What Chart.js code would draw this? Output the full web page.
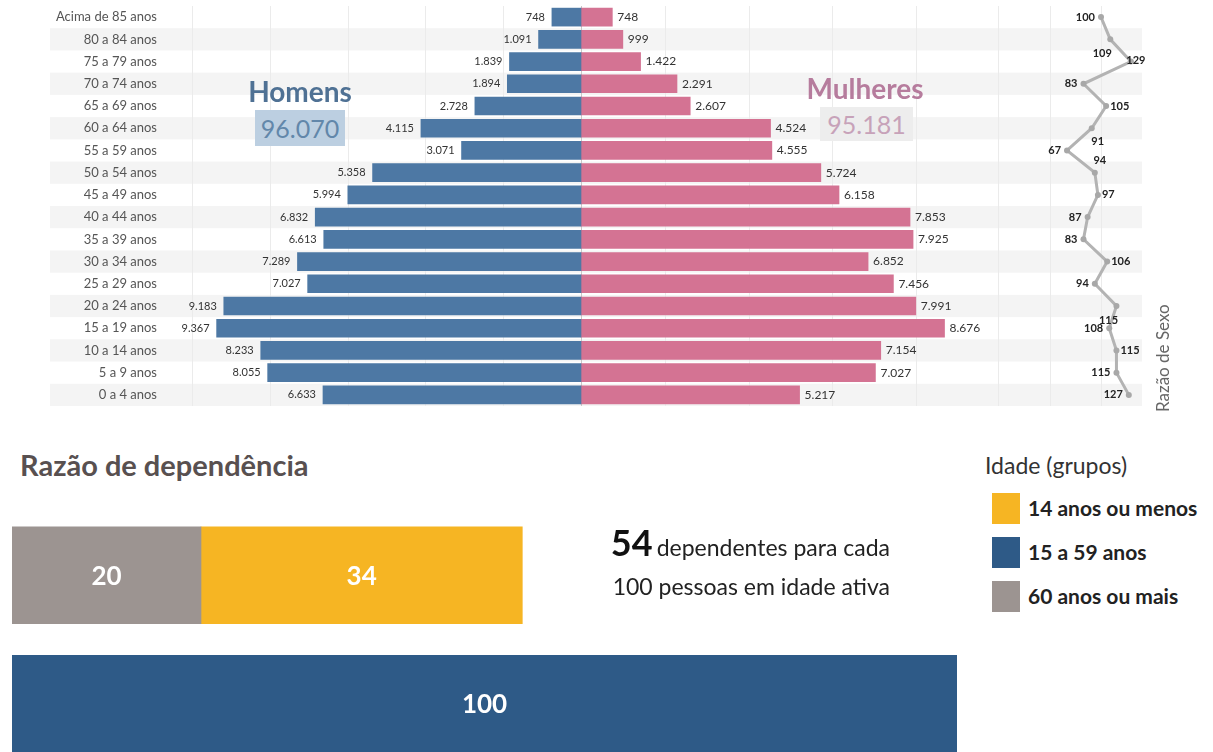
<!DOCTYPE html>
<html lang="pt">
<head>
<meta charset="utf-8">
<script src="https://cdn.jsdelivr.net/npm/chart.js@4.4.1/dist/chart.umd.min.js"></script>
<style>
  html, body { margin: 0; padding: 0; background: #fff; overflow: hidden; }
  body { width: 1213px; height: 752px; position: relative; font-family: Lato, 'Open Sans', sans-serif; }
  canvas { position: absolute; }
  #pyramid { left: 0; top: 0; }
  #dependency { left: 0; top: 511px; }
  .abs { position: absolute; white-space: nowrap; }
  .sex-title { font-weight: 700; font-size: 28px; line-height: 34px; text-align: center; }
  .total-box { font-size: 25px; line-height: 36px; text-align: center; }
  .legend-swatch { position: absolute; width: 28px; height: 31px; }
  .legend-text { position: absolute; font-weight: 700; font-size: 21px; line-height: 31px; color: #222; white-space: nowrap; }
</style>
</head>
<body>
<canvas id="pyramid" width="1213" height="412"></canvas>
<canvas id="dependency" width="970" height="257"></canvas>

<div class="abs sex-title" style="left:240px; top:74px; width:120px; color:#4f7194;">Homens</div>
<div class="abs total-box" id="men-total" style="left:255px; top:110px; width:90px; height:36px; background:#bccfe1; color:#6287aa;"></div>
<div class="abs sex-title" style="left:800px; top:71px; width:130px; color:#b67c9d;">Mulheres</div>
<div class="abs total-box" id="women-total" style="left:820px; top:107px; width:93px; height:34px; line-height:34px; background:#ededed; color:#c7a2b9;"></div>
<div class="abs" style="left:1152px; top:412px; font-size:17px; line-height:22px; color:#666; transform:rotate(-90deg); transform-origin:left top;">Razão de Sexo</div>

<div class="abs" style="left:20px; top:447px; font-size:29px; font-weight:700; color:#585050;">Razão de dependência</div>
<div class="abs" id="dep-summary" style="left:520px; top:520px; width:370px; text-align:right; color:#111;">
  <div style="line-height:44px;"><span style="font-size:36px; font-weight:700;" id="dep-total"></span> <span style="font-size:23px; color:#222;">dependentes para cada</span></div>
  <div style="font-size:23px; line-height:28px; color:#222;">100 pessoas em idade ativa</div>
</div>
<div class="abs" style="left:985px; top:451px; font-size:23px; color:#333;">Idade (grupos)</div>
<div id="legend"></div>

<script>
// Pyramid data, top row first
const AGE_GROUPS = [
  'Acima de 85 anos', '80 a 84 anos', '75 a 79 anos', '70 a 74 anos', '65 a 69 anos',
  '60 a 64 anos', '55 a 59 anos', '50 a 54 anos', '45 a 49 anos', '40 a 44 anos',
  '35 a 39 anos', '30 a 34 anos', '25 a 29 anos', '20 a 24 anos', '15 a 19 anos',
  '10 a 14 anos', '5 a 9 anos', '0 a 4 anos',
];
const MEN = [748, 1091, 1839, 1894, 2728, 4115, 3071, 5358, 5994, 6832, 6613, 7289, 7027, 9183, 9367, 8233, 8055, 6633];
const WOMEN = [748, 999, 1422, 2291, 2607, 4524, 4555, 5724, 6158, 7853, 7925, 6852, 7456, 7991, 8676, 7154, 7027, 5217];
const SEX_RATIO = [100, 109, 129, 83, 105, 91, 67, 94, 97, 87, 83, 106, 94, 115, 108, 115, 115, 127];
const MEN_TOTAL = 96070;
const WOMEN_TOTAL = 95181;

// Faint vertical reference lines of each panel
const MEN_GRID = [2000, 4000, 6000, 8000, 10000];
const WOMEN_GRID = [2000, 4000, 6000, 8000];
const RATIO_GRID = [0, 50, 100];

// Dependency ratio
const DEP_ROWS = ['Dependentes', 'Idade ativa'];
const DEP_60_PLUS = [20, null];
const DEP_14_MINUS = [34, null];
const DEP_15_59 = [null, 100];
const DEP_TOTAL = 54;
const LEGEND_LABELS = ['14 anos ou menos', '15 a 59 anos', '60 anos ou mais'];

// where each sex ratio label sits relative to its point
const RATIO_LABEL_POS = ['l', 'bl', 'c', 'l', 'r', 'br', 'l', 'a', 'r', 'l', 'l', 'r', 'l', 'bl', 'l', 'r', 'l', 'l'];

const MALE_COLOR = '#4d78a4';
const FEMALE_COLOR = '#d47393';
const RATIO_COLOR = '#b3b3b3';
const C60 = '#9c9491';
const C14 = '#f6b523';
const C15 = '#2e5a87';

// Pyramid geometry (chart area is fixed, so each panel gets its own hidden axis)
const AREA_LEFT = 165;
const AREA_RIGHT = 1142;
const CENTER_X = 581;
const MALE_PX = 0.0389;
const FEMALE_PX = 0.0419;
const RATIO_PX = 1.03;
const RATIO_100_X = 1101;
const AREA_W = AREA_RIGHT - AREA_LEFT;

const maleMin = -(AREA_RIGHT - CENTER_X) / MALE_PX;
const femaleMin = -(CENTER_X - AREA_LEFT) / FEMALE_PX;
const ratioMin = 100 - (RATIO_100_X - AREA_LEFT) / RATIO_PX;

function fmt(v) {
  return String(v).replace(/\B(?=(\d{3})+(?!\d))/g, '.');
}

document.getElementById('men-total').textContent = fmt(MEN_TOTAL);
document.getElementById('women-total').textContent = fmt(WOMEN_TOTAL);
document.getElementById('dep-total').textContent = DEP_TOTAL;

// HTML legend
const legendColors = [C14, C15, C60];
const legendEl = document.getElementById('legend');
LEGEND_LABELS.forEach((txt, i) => {
  const top = 493 + i * 44;
  legendEl.insertAdjacentHTML('beforeend',
    `<div class="legend-swatch" style="left:992px; top:${top}px; background:${legendColors[i]};"></div>` +
    `<div class="legend-text" style="left:1028px; top:${top - 1}px;">${txt}</div>`);
});

const pyramidDecor = {
  id: 'pyramidDecor',
  beforeDraw(chart) {
    const { ctx, chartArea: area, scales } = chart;
    const y = scales.y;
    const band = (area.bottom - area.top) / AGE_GROUPS.length;
    ctx.save();
    ctx.fillStyle = '#f4f4f4';
    AGE_GROUPS.forEach((_, i) => {
      if (i % 2 === 1) {
        const cy = y.getPixelForValue(i);
        ctx.fillRect(50, cy - band / 2, area.right - 50, band);
      }
    });
    ctx.strokeStyle = '#ebebeb';
    ctx.lineWidth = 1;
    const vline = x => {
      ctx.beginPath();
      ctx.moveTo(Math.round(x) + 0.5, area.top);
      ctx.lineTo(Math.round(x) + 0.5, area.bottom);
      ctx.stroke();
    };
    MEN_GRID.forEach(v => vline(scales.xm.getPixelForValue(v)));
    WOMEN_GRID.forEach(v => vline(scales.xf.getPixelForValue(v)));
    RATIO_GRID.forEach(v => vline(scales.xr.getPixelForValue(v)));
    ctx.strokeStyle = '#c8c8c8';
    vline(scales.xm.getPixelForValue(0));
    ctx.restore();
  },
  afterDatasetsDraw(chart) {
    const { ctx } = chart;
    ctx.save();
    ctx.textBaseline = 'middle';
    ctx.fillStyle = '#333';

    ctx.font = '11px Lato, sans-serif';
    ctx.textAlign = 'right';
    chart.getDatasetMeta(0).data.forEach((el, i) => {
      ctx.fillText(fmt(MEN[i]), el.x - 7, el.y);
    });

    ctx.font = '12px Lato, sans-serif';
    ctx.textAlign = 'left';
    chart.getDatasetMeta(1).data.forEach((el, i) => {
      ctx.fillText(fmt(WOMEN[i]), el.x + 5, el.y);
    });

    ctx.font = 'bold 11px Lato, sans-serif';
    ctx.fillStyle = '#222';
    chart.getDatasetMeta(2).data.forEach((el, i) => {
      const pos = RATIO_LABEL_POS[i];
      let x = el.x, yy = el.y, align = 'center';
      if (pos === 'l') { x -= 6; align = 'right'; }
      else if (pos === 'r') { x += 4; align = 'left'; }
      else if (pos === 'bl') { x -= 8; yy += 14; }
      else if (pos === 'br') { x += 6; yy += 13; }
      else if (pos === 'a') { x += 5; yy -= 12; }
      else if (pos === 'c') { x += 5; yy -= 1; }
      ctx.textAlign = align;
      ctx.fillText(String(SEX_RATIO[i]), x, yy);
    });
    ctx.restore();
  },
};

new Chart(document.getElementById('pyramid'), {
  type: 'bar',
  data: {
    labels: AGE_GROUPS,
    datasets: [
      {
        label: 'Homens',
        data: MEN,
        xAxisID: 'xm',
        backgroundColor: MALE_COLOR,
        grouped: false,
        barThickness: 18,
      },
      {
        label: 'Mulheres',
        data: WOMEN,
        xAxisID: 'xf',
        backgroundColor: FEMALE_COLOR,
        grouped: false,
        barThickness: 18,
      },
      {
        type: 'line',
        label: 'Razão de Sexo',
        data: SEX_RATIO,
        xAxisID: 'xr',
        indexAxis: 'y',
        borderColor: RATIO_COLOR,
        borderWidth: 3,
        pointRadius: 3,
        pointBorderWidth: 0,
        pointBackgroundColor: '#a8a8a8',
        tension: 0,
      },
    ],
  },
  options: {
    indexAxis: 'y',
    responsive: false,
    animation: false,
    events: [],
    layout: { padding: { left: 0, right: 1213 - AREA_RIGHT, top: 6, bottom: 6 } },
    plugins: { legend: { display: false }, tooltip: { enabled: false } },
    scales: {
      y: {
        afterFit: s => {
          s.width = AREA_LEFT;
          s.paddingTop = 0;
          s.paddingBottom = 0;
        },
        grid: { display: false },
        border: { display: false },
        ticks: { color: '#555', font: { family: 'Lato, sans-serif', size: 13 }, padding: 0 },
      },
      xm: {
        type: 'linear', axis: 'x', position: 'bottom', display: false, reverse: true,
        min: maleMin, max: maleMin + AREA_W / MALE_PX,
      },
      xf: {
        type: 'linear', axis: 'x', position: 'bottom', display: false,
        min: femaleMin, max: femaleMin + AREA_W / FEMALE_PX,
      },
      xr: {
        type: 'linear', axis: 'x', position: 'bottom', display: false,
        min: ratioMin, max: ratioMin + AREA_W / RATIO_PX,
      },
    },
  },
  plugins: [pyramidDecor],
});

const barLabels = {
  id: 'barLabels',
  afterDatasetsDraw(chart) {
    const { ctx } = chart;
    ctx.save();
    ctx.fillStyle = '#fff';
    ctx.font = 'bold 26px Lato, sans-serif';
    ctx.textAlign = 'center';
    ctx.textBaseline = 'middle';
    chart.data.datasets.forEach((ds, di) => {
      chart.getDatasetMeta(di).data.forEach((el, i) => {
        if (ds.data[i] == null) return;
        ctx.fillText(String(ds.data[i]), (el.x + el.base) / 2, el.y + 1);
      });
    });
    ctx.restore();
  },
};

new Chart(document.getElementById('dependency'), {
  type: 'bar',
  data: {
    labels: DEP_ROWS,
    datasets: [
      { label: '60 anos ou mais', data: DEP_60_PLUS, backgroundColor: C60, barThickness: 97 },
      { label: '14 anos ou menos', data: DEP_14_MINUS, backgroundColor: C14, barThickness: 97 },
      { label: '15 a 59 anos', data: DEP_15_59, backgroundColor: C15, barThickness: 97 },
    ],
  },
  options: {
    indexAxis: 'y',
    responsive: false,
    animation: false,
    events: [],
    layout: { padding: { left: 12, right: 13, top: 0, bottom: 0 } },
    plugins: { legend: { display: false }, tooltip: { enabled: false } },
    scales: {
      x: { stacked: true, min: 0, max: 100, display: false },
      y: { stacked: true, display: false },
    },
  },
  plugins: [barLabels],
});
</script>
</body>
</html>
